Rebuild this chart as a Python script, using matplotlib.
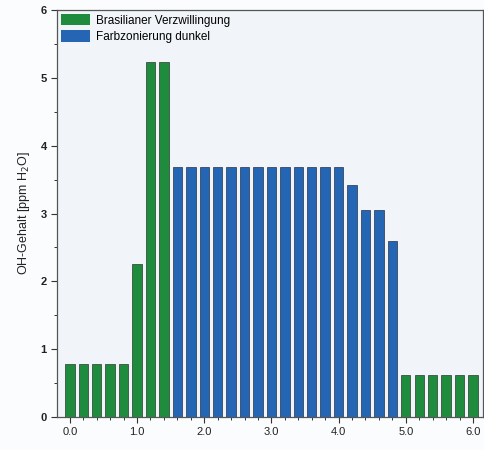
import matplotlib
matplotlib.use("Agg")
import matplotlib.pyplot as plt
from matplotlib.patches import Patch
from matplotlib.ticker import MultipleLocator, FormatStrFormatter

plt.rcParams['font.family'] = ['Liberation Sans', 'DejaVu Sans']

# Positions (mm) and OH content (ppm H2O)
green_x = [0.0, 0.2, 0.4, 0.6, 0.8, 1.0, 1.2, 1.4, 5.0, 5.2, 5.4, 5.6, 5.8, 6.0]
green_y = [0.78, 0.78, 0.78, 0.78, 0.78, 2.25, 5.24, 5.24, 0.62, 0.62, 0.62, 0.62, 0.62, 0.62]
blue_x = [1.6, 1.8, 2.0, 2.2, 2.4, 2.6, 2.8, 3.0, 3.2, 3.4, 3.6, 3.8, 4.0, 4.2, 4.4, 4.6, 4.8]
blue_y = [3.68, 3.68, 3.68, 3.68, 3.68, 3.68, 3.68, 3.68, 3.68, 3.68, 3.68, 3.68, 3.68,
          3.42, 3.05, 3.05, 2.60]
labels = ["Brasilianer Verzwillingung", "Farbzonierung dunkel"]

green = "#1e8c3c"
blue = "#2466b4"

fig = plt.figure(figsize=(4.84, 4.5), dpi=100, facecolor="#fbfcfd")
ax = fig.add_axes([0.118, 0.0733, 0.88, 0.9045])
ax.set_facecolor("#f1f5f9")

ax.bar(green_x, green_y, width=0.14, color=green, edgecolor="#2a3a2e", linewidth=0.5, zorder=3)
ax.bar(blue_x, blue_y, width=0.14, color=blue, edgecolor="#25324a", linewidth=0.5, zorder=3)

ax.set_xlim(-0.19, 6.15)
ax.set_ylim(0, 6)
ax.xaxis.set_major_locator(MultipleLocator(1.0))
ax.xaxis.set_minor_locator(MultipleLocator(0.2))
ax.xaxis.set_major_formatter(FormatStrFormatter("%.1f"))
ax.yaxis.set_major_locator(MultipleLocator(1))
ax.yaxis.set_minor_locator(MultipleLocator(0.5))
ax.tick_params(axis="both", which="major", direction="out", length=4, width=0.8,
               labelsize=8, colors="#333333", labelcolor="#222222")
ax.tick_params(axis="both", which="minor", direction="out", length=2.5, width=0.7,
               colors="#333333")
for lbl in ax.get_yticklabels():
    lbl.set_fontweight("bold")

for side in ["left", "bottom", "top", "right"]:
    ax.spines[side].set_color("#555555")
    ax.spines[side].set_linewidth(0.9)

ax.set_ylabel("OH-Gehalt [ppm H$_2$O]", fontsize=9, color="#222222", labelpad=6)

handles = [Patch(facecolor=green, edgecolor="none"), Patch(facecolor=blue, edgecolor="none")]
ax.legend(handles, labels, loc="upper left", frameon=False, fontsize=8.5,
          handlelength=2.4, handleheight=1.1, handletextpad=0.55, labelspacing=0.3,
          borderaxespad=0.05, borderpad=0.3, bbox_to_anchor=(0.0, 1.0))

fig.savefig("out.png", dpi=100, facecolor=fig.get_facecolor())
